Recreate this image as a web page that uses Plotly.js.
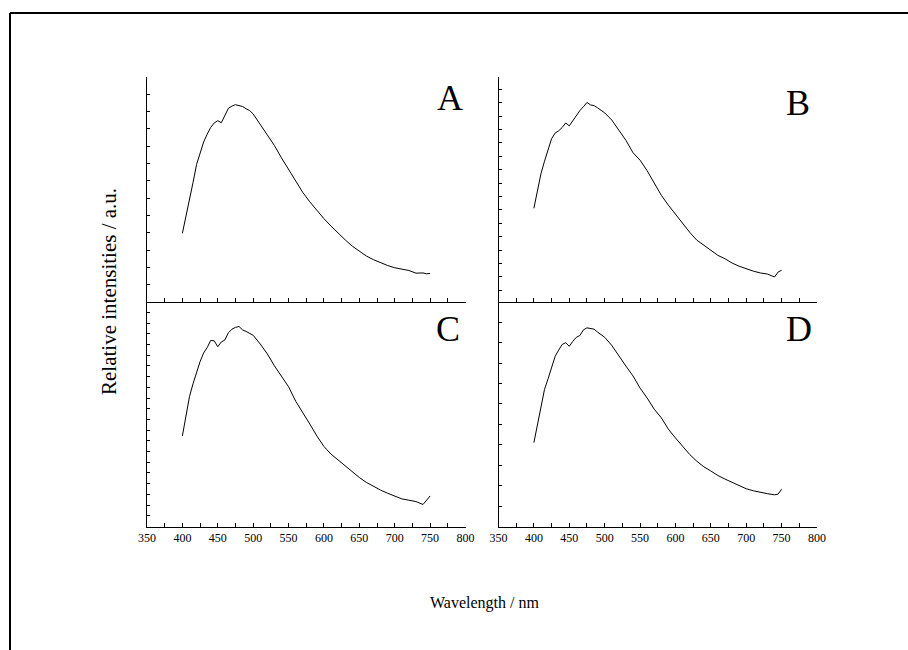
<!DOCTYPE html>
<html>
<head>
<meta charset="utf-8">
<script src="https://cdn.plot.ly/plotly-3.0.1.min.js"></script>
<style>html,body{margin:0;padding:0;background:#fff;}#chart{width:908px;height:650px;}</style>
</head>
<body>
<div id="chart"></div>
<script>
// Wavelength grid (nm)
const wavelength = [400,405,410,415,420,425,430,435,440,445,450,455,460,465,470,475,480,485,490,495,500,
  510,520,530,540,550,560,570,580,590,600,610,620,630,640,650,660,670,680,690,700,710,720,730,740,745,750];

// Relative intensities (a.u., % of panel height)
const intensityA = [30.5,37.5,44.5,53,61,66.5,71,74.5,77.5,79.5,80.5,79.6,82.5,86,87,87.6,87.2,86.8,85.8,85,83.5,
  79,74,69.5,64,59,54,48.7,44.5,40.7,37,33.7,30.5,27.6,24.8,22.4,20.4,18.8,17.4,16.2,15.2,14.6,14.0,12.8,12.9,12.5,12.7];
const intensityB = [41.6,49.5,57,62.5,67.2,72.5,75,76,77.5,79.5,78.2,80.5,83,85,86.7,88.6,87.5,87.2,86.2,85.2,84,
  80.8,76.5,71.8,66.3,63,58.3,53,47.4,43,39,34.6,31,27.5,25.2,22.9,20.7,19.2,17.3,15.9,14.7,13.7,12.9,12.4,11.1,13.3,14.1];
const intensityC = [40.3,50,57.8,63.5,68.5,73.4,77.2,79.6,82.8,82.6,80,82.1,83,86.2,87.8,88.6,89,87.5,86.8,86.1,85.1,
  81.2,76.8,71.5,67,62.2,55.8,51,45.6,40.3,35.6,32.2,29.6,26.7,24.1,21.8,19.6,17.8,16.2,14.8,13.4,12.3,11.7,11.1,9.8,11.6,13.6];
const intensityD = [37.3,45,53.5,61,65.7,71,75.7,78.5,81,81.8,80.2,82.4,84.2,85,87.5,88.4,88,87.8,86.5,85.4,84.2,
  80.6,75.7,71.4,67,61.6,57.2,52.2,48.4,43.3,39.4,35.6,32.1,29.1,26.6,24.7,22.7,21.1,19.6,18.1,16.8,15.9,15.1,14.6,14.1,14.4,16.6];

const panelLabels = ["A","B","C","D"];
const xTitle = "Wavelength / nm";
const yTitle = "Relative intensities / a.u.";

const W = 908, H = 650;
const FONT = "Liberation Serif, Times New Roman, serif";

const series = [intensityA, intensityB, intensityC, intensityD];
const traces = series.map((s, i) => ({
  x: wavelength, y: s, type: "scatter", mode: "lines",
  line: {color: "#000", width: 1},
  xaxis: i === 0 ? "x" : "x" + (i + 1),
  yaxis: i === 0 ? "y" : "y" + (i + 1),
  showlegend: false, hoverinfo: "skip"
}));

const leftDom = [147 / W, 465.5 / W];
const rightDom = [498.5 / W, 817 / W];
const topDom = [1 - 302 / H, 1 - 77 / H];
const botDom = [1 - 526.5 / H, 1 - 302 / H];

function xa(dom, anchor, labels) {
  return {
    domain: dom, anchor: anchor, range: [350, 800], showline: true, linecolor: "#000", linewidth: 1,
    ticks: "inside", ticklen: 4, tickcolor: "#000", tickwidth: 1, tick0: 350, dtick: 50,
    minor: {dtick: 25, ticks: "inside", ticklen: 4, tickcolor: "#000", tickwidth: 1, showgrid: false},
    showgrid: false, zeroline: false, showticklabels: labels,
    tickfont: {family: FONT, size: 12, color: "#000"}, fixedrange: true
  };
}
function ya(dom, anchor, tick0, dtick) {
  return {
    domain: dom, anchor: anchor, range: [0, 99.9], showline: true, linecolor: "#000", linewidth: 1,
    ticks: "inside", ticklen: 3, tickcolor: "#000", tickwidth: 1, tick0: tick0, dtick: dtick,
    showgrid: false, zeroline: false, showticklabels: false, fixedrange: true
  };
}

const labelPos = [[450, 98], [798, 103], [448, 329], [799, 329]];
const annotations = panelLabels.map((t, i) => ({
  text: t, xref: "paper", yref: "paper", x: labelPos[i][0] / W, y: 1 - labelPos[i][1] / H,
  xanchor: "center", yanchor: "middle", showarrow: false,
  font: {family: FONT, size: 36, color: "#000"}
}));
annotations.push({
  text: xTitle, xref: "paper", yref: "paper", x: 484 / W, y: 1 - 603 / H,
  xanchor: "center", yanchor: "middle", showarrow: false,
  font: {family: FONT, size: 16, color: "#000"}
});
annotations.push({
  text: yTitle, xref: "paper", yref: "paper", x: 109 / W, y: 1 - 292 / H, textangle: -90,
  xanchor: "center", yanchor: "middle", showarrow: false,
  font: {family: FONT, size: 21, color: "#000"}
});

const layout = {
  width: W, height: H, margin: {l: 0, r: 0, t: 0, b: 0},
  paper_bgcolor: "#fff", plot_bgcolor: "rgba(0,0,0,0)",
  font: {family: FONT, color: "#000"},
  xaxis: xa(leftDom, "y", false), yaxis: ya(topDom, "x", 0, 100 / 13),
  xaxis2: xa(rightDom, "y2", false), yaxis2: ya(topDom, "x2", 5.2, 5.95),
  xaxis3: xa(leftDom, "y3", true), yaxis3: ya(botDom, "x3", 0, 100 / 21),
  xaxis4: xa(rightDom, "y4", true), yaxis4: ya(botDom, "x4", 0, 100 / 11),
  annotations: annotations,
  shapes: [
    {type: "line", xref: "paper", yref: "paper", x0: 10 / W, x1: 1, y0: 1 - 13 / H, y1: 1 - 13 / H, line: {color: "#000", width: 2}},
    {type: "line", xref: "paper", yref: "paper", x0: 10 / W, x1: 10 / W, y0: 0, y1: 1 - 13 / H, line: {color: "#000", width: 2}}
  ]
};

Plotly.newPlot("chart", traces, layout, {displayModeBar: false, staticPlot: true});
</script>
</body>
</html>
